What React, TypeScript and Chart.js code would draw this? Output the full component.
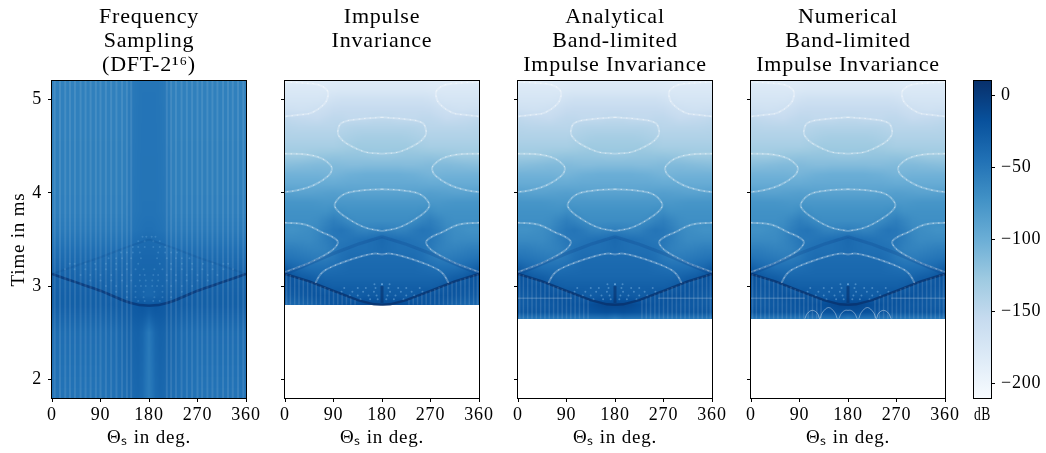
import React, { useEffect, useRef } from "react";
import { Chart, registerables } from "chart.js";
Chart.register(...registerables);

const FONT = "'Liberation Serif', serif";
const INK = "#000000";

// Colormap (Blues), dB range of the colourbar
const blues = ["#f7fbff","#deebf7","#c6dbef","#9ecae1","#6baed6","#4292c6","#2171b5","#08519c","#08306b"];
const dbMin = -210;
const dbMax = 10;
const colorTicks = [-200,-150,-100,-50,0];
const thetaTicks = [0,90,180,270,360];
const timeTicks = [2,3,4,5];

const titles = [
  ["Frequency","Sampling","(DFT-2¹⁶)"],
  ["Impulse","Invariance",""],
  ["Analytical","Band-limited","Impulse Invariance"],
  ["Numerical","Band-limited","Impulse Invariance"],
];

// Panel 1: left half of a symmetric field
const dftCols = [0,30,60,90,120,135,148,160,168,174,180];
const dftTimes = [5.2,3.8,3.6,3.5,3.3,3.13,3,2.9,2.8,2.7,2.5,1.8];
const dftField = [
  [-58,-58,-58,-58,-58,-58,-52,-49,-48,-48,-48],
  [-56,-56,-56,-56,-56,-56,-50,-48,-47,-47,-47],
  [-52,-52,-52,-52,-52,-52,-48,-46,-45,-44,-44],
  [-48,-48,-48,-48,-48,-48,-44,-42,-41,-40,-40],
  [-40,-40,-40,-40,-40,-40,-38,-37,-36,-36,-36],
  [-32,-34,-36,-36,-36,-36,-36,-35,-35,-35,-35],
  [-32,-32,-32,-32,-34,-34,-34,-34,-34,-36,-36],
  [-30,-30,-30,-30,-30,-30,-30,-32,-34,-36,-36],
  [-30,-30,-30,-30,-28,-28,-26,-24,-22,-24,-24],
  [-34,-34,-34,-34,-32,-30,-28,-26,-26,-28,-32],
  [-42,-42,-42,-42,-40,-36,-34,-32,-36,-44,-52],
  [-47,-47,-47,-47,-44,-42,-39,-36,-40,-48,-54],
];
const dftStripes = [5,14.8,24.6,33.4,42.6,53,62.3,71.6,81.4,90,100,109.7,119.6,130,139,147];
const dftVee = [[0,3.13],[45,3.04],[90,2.95],[135,2.84],[160,2.8],[180,2.79]];
const dftCap = [[0,3.13],[45,3.22],[90,3.31],[135,3.41],[180,3.5]];
const dftDots: [number, number[]][] = [
  [3.53,[168,175]],[3.48,[160,172]],[3.42,[150,160,172]],[3.36,[128,139,150,163]],[3.3,[105,119,130,147,165]],
  [3.24,[33,42,62,80,100,119,139,160]],[3.18,[24,42,62,81,100,119,139,155,170]],[3.12,[53,71,90,110,130,147,163,172]],
  [3.06,[71,90,110,130,147,163,174]],[3,[100,119,139,155,165,174]],[2.94,[119,139,155,170]],[2.88,[139,155,170]],[2.84,[160,172]],
];

// Panels 2-4: left half of a symmetric field, 0..180 deg
const iiCols = [0,15,30,45,60,75,90,105,120,135,150,165,180];
const iiTimes = [5.2,5.1,5,4.9,4.8,4.7,4.6,4.5,4.4,4.3,4.2,4.1,4,3.9,3.8,3.7,3.6,3.5,3.4,3.3,3.2,3.1,3,2.9];
const iiField = [
  [-184,-184,-184,-184,-184,-184,-183,-182,-182,-182,-182,-182,-182],
  [-178,-178,-178,-178,-178,-178,-177,-176,-176,-176,-176,-176,-176],
  [-172,-172,-172,-172,-172,-170,-166,-164,-164,-164,-164,-164,-164],
  [-164,-165,-166,-165,-163,-160,-156,-155,-155,-155,-155,-155,-155],
  [-150,-152,-153,-154,-155,-152,-150,-150,-152,-152,-152,-150,-150],
  [-144,-145,-146,-146,-146,-146,-146,-144,-142,-141,-141,-141,-141],
  [-140,-140,-140,-140,-140,-140,-140,-138,-136,-134,-133,-133,-133],
  [-134,-134,-134,-134,-134,-134,-134,-132,-130,-128,-128,-128,-128],
  [-128,-128,-128,-126,-124,-123,-122,-122,-122,-122,-123,-124,-124],
  [-116,-115,-114,-113,-112,-112,-112,-113,-114,-114,-113,-113,-113],
  [-104,-104,-104,-104,-104,-105,-106,-104,-102,-101,-100,-100,-100],
  [-97,-97,-97,-97,-97,-97,-97,-96,-95,-95,-95,-95,-95],
  [-86,-87,-88,-88,-87,-86,-85,-86,-87,-88,-88,-88,-88],
  [-76,-76,-76,-76,-77,-78,-78,-78,-78,-78,-78,-78,-78],
  [-72,-72,-72,-72,-72,-72,-68,-70,-72,-72,-72,-72,-72],
  [-70,-70,-70,-70,-68,-62,-56,-60,-66,-68,-68,-68,-68],
  [-72,-72,-70,-68,-64,-56,-50,-48,-52,-58,-60,-58,-56],
  [-66,-66,-66,-66,-62,-56,-50,-50,-48,-46,-44,-42,-38],
  [-56,-56,-58,-60,-60,-58,-52,-46,-44,-44,-44,-42,-40],
  [-46,-48,-50,-52,-54,-54,-50,-44,-40,-40,-40,-40,-40],
  [-30,-36,-40,-44,-44,-44,-42,-40,-38,-38,-38,-38,-38],
  [-18,-22,-28,-30,-34,-36,-36,-36,-36,-36,-36,-36,-36],
  [-22,-22,-22,-20,-24,-28,-30,-30,-30,-30,-30,-30,-30],
  [-26,-26,-24,-22,-20,-20,-20,-22,-26,-28,-26,-26,-26],
];
const tailTimes2 = [2.8];
const tailField2 = [[-36,-36,-34,-32,-28,-24,-22,-20,-18,-16,-12,-12,-14]];
const tailTimes3 = [2.8,2.72,2.65];
const tailField3 = [
  [-26,-26,-25,-24,-24,-22,-20,-20,-18,-16,-12,-10,-10],
  [-22,-22,-22,-22,-22,-22,-22,-22,-22,-20,-18,-16,-18],
  [-50,-50,-50,-50,-50,-50,-50,-50,-50,-50,-50,-48,-56],
];

const ringA = [[180,4.81],[136,4.79],[105,4.75],[98,4.66],[101,4.6],[114,4.53],[148,4.44],[180,4.42]];
const ringB = [[0,5.19],[30,5.18],[62,5.16],[77,5.11],[80,5.05],[74,4.96],[50,4.86],[31,4.84],[0,4.82]];
const ringC = [[0,4.42],[43,4.41],[68,4.37],[84,4.3],[87,4.25],[80,4.18],[56,4.09],[25,4.03],[0,4.01]];
const ringD = [[180,4.04],[149,4.03],[111,3.99],[93,3.89],[96,3.82],[118,3.72],[148,3.63],[180,3.59]];
const ringE = [[0,3.68],[37,3.66],[68,3.58],[93,3.51],[98,3.46],[84,3.37],[49,3.26],[19,3.19],[0,3.15]];
const ringF = [[56,3.03],[65,3.12],[74,3.17],[105,3.25],[142,3.32],[167,3.35],[180,3.34]];
const iiVee = [[0,3.13],[45,3.05],[90,2.95],[135,2.85],[165,2.805],[180,2.8]];
const iiCap = [[0,3.13],[45,3.24],[90,3.35],[135,3.45],[180,3.53]];
const iiStripes = [[3,3.13],[10,3.12],[18,3.1],[26,3.09],[34,3.07],[42,3.05],[50,3.04],[58,3.02],[66,3],[74,2.99],[82,2.97],[90,2.95],[98,2.93],[106,2.91],[114,2.89],[122,2.87],[130,2.85]];
const iiDots: [number, number[]][] = [
  [3.02,[166,180]],[2.98,[110,135,150,168]],[2.94,[105,125,145,165]],[2.9,[120,135,155,170]],[2.86,[140,158,172]],
];
const iiBar = [[180,2.82],[180,3]];
const bandEdge = [[0,2.87],[55,2.87],[100,2.87]];
const archLeft = [[128,2.65],[133,2.72],[144,2.77],[155,2.72],[160,2.65]];
const archMid = [[163,2.65],[168,2.71],[175,2.74],[180,2.74]];
const archOuter = [[100,2.65],[105,2.71],[114,2.74],[123,2.71],[127,2.65]];

function blueAt(db: number): number[] {
  const f = Math.min(1, Math.max(0, (db - dbMin) / (dbMax - dbMin))) * (blues.length - 1);
  const i = Math.min(blues.length - 2, Math.floor(f));
  const t = f - i;
  const a = hex(blues[i]), b = hex(blues[i + 1]);
  return [a[0] + (b[0] - a[0]) * t, a[1] + (b[1] - a[1]) * t, a[2] + (b[2] - a[2]) * t];
}
function hex(s: string): number[] {
  return [parseInt(s.slice(1, 3), 16), parseInt(s.slice(3, 5), 16), parseInt(s.slice(5, 7), 16)];
}
const both = (p: number[][]) => [p, p.map(([x, y]) => [360 - x, y])];
const asPts = (p: number[][]) => p.map(([x, y]) => ({ x, y }));

// Mirror a half field to a full grid of points with a value v
function gridPoints(cols: number[], times: number[], field: number[][]) {
  const full = [...cols, ...cols.slice(0, -1).reverse().map((c) => 360 - c)];
  const pts: { x: number; y: number; v: number }[] = [];
  times.forEach((t, r) => {
    const row = field[r];
    const vals = [...row, ...row.slice(0, -1).reverse()];
    full.forEach((x, c) => pts.push({ x, y: t, v: vals[c] }));
  });
  return { pts, nCols: full.length, nRows: times.length };
}

const textPlugin = {
  id: "textSpacing",
  beforeDraw(chart: any) {
    chart.ctx.letterSpacing = "0.8px";
  },
};

// Paints the "cells" dataset, reading the node positions from the elements that Chart.js placed
const heatPlugin = {
  id: "heat",
  beforeDatasetsDraw(chart: any) {
    const meta = chart.getDatasetMeta(0);
    const ds = chart.data.datasets[0];
    if (!ds.grid) return;
    const { nCols, nRows } = ds.grid;
    const xs: number[] = [], ys: number[] = [];
    for (let c = 0; c < nCols; c++) xs.push(meta.data[c].x);
    for (let r = 0; r < nRows; r++) ys.push(meta.data[r * nCols].y);
    const L = Math.round(xs[0]), R = Math.round(xs[nCols - 1]);
    const T = Math.round(ys[0]), B = Math.round(ys[nRows - 1]);
    const W = R - L, H = B - T;
    const off = document.createElement("canvas");
    off.width = W; off.height = H;
    const octx = off.getContext("2d")!;
    const img = octx.createImageData(W, H);
    let rI = 0;
    for (let py = 0; py < H; py++) {
      const yy = T + py + 0.5;
      while (rI < nRows - 2 && ys[rI + 1] < yy) rI++;
      const fy = Math.min(1, Math.max(0, (yy - ys[rI]) / (ys[rI + 1] - ys[rI])));
      let cI = 0;
      for (let px = 0; px < W; px++) {
        const xx = L + px + 0.5;
        while (cI < nCols - 2 && xs[cI + 1] < xx) cI++;
        const fx = Math.min(1, Math.max(0, (xx - xs[cI]) / (xs[cI + 1] - xs[cI])));
        const d = ds.data;
        const v00 = d[rI * nCols + cI].v, v01 = d[rI * nCols + cI + 1].v;
        const v10 = d[(rI + 1) * nCols + cI].v, v11 = d[(rI + 1) * nCols + cI + 1].v;
        const v = (v00 * (1 - fx) + v01 * fx) * (1 - fy) + (v10 * (1 - fx) + v11 * fx) * fy;
        const col = blueAt(v);
        const k = (py * W + px) * 4;
        img.data[k] = col[0]; img.data[k + 1] = col[1]; img.data[k + 2] = col[2]; img.data[k + 3] = 255;
      }
    }
    octx.putImageData(img, 0, 0);
    chart.ctx.drawImage(off, L, T);
  },
};

const framePlugin = {
  id: "frame",
  afterDraw(chart: any) {
    const { left, top, right, bottom } = chart.chartArea;
    const c = chart.ctx;
    c.save();
    c.strokeStyle = INK; c.lineWidth = 1;
    c.strokeRect(left - 0.5, top - 0.5, right - left + 1, bottom - top + 1);
    c.restore();
  },
};

function lineDs(points: number[][], color: string, width: number, extra: any = {}) {
  return { type: "scatter", data: asPts(points), showLine: true, borderColor: color, borderWidth: width, pointRadius: 0, tension: 0, ...extra };
}
function ringDs(p: number[][]) {
  const out: any[] = [];
  both(p).forEach((side) => {
    out.push(lineDs(side, "rgba(255,255,255,0.25)", 2, { tension: 0.4 }));
    out.push(lineDs(side, "rgba(255,255,255,0.5)", 1, { tension: 0.4, borderDash: [1.5, 4] }));
  });
  return out;
}
function dotDs(rows: [number, number[]][], color: string, r: number) {
  const pts: { x: number; y: number }[] = [];
  rows.forEach(([t, degs]) => degs.forEach((d) => { pts.push({ x: d, y: t }); pts.push({ x: 360 - d, y: t }); }));
  return { type: "scatter", data: pts, pointRadius: r, pointBackgroundColor: color, pointBorderWidth: 0, showLine: false };
}

function panelDatasets(i: number) {
  const ds: any[] = [];
  if (i === 0) {
    const g = gridPoints(dftCols, dftTimes, dftField);
    ds.push({ type: "scatter", data: g.pts, grid: g, pointRadius: 0, showLine: false });
    dftStripes.forEach((d) => {
      both([[d, 1.8], [d, 5.2]]).forEach((s) => ds.push(lineDs(s, "rgba(255,255,255,0.1)", 2)));
    });
    both(dftCap).forEach((s) => ds.push(lineDs(s, "rgba(8,60,130,0.15)", 2)));
    both(dftVee).forEach((s) => ds.push(lineDs(s, "rgba(8,55,120,0.8)", 2.6, { tension: 0.2 })));
    ds.push(dotDs(dftDots, "rgba(130,190,235,0.25)", 1));
    return ds;
  }
  const tailT = i === 1 ? tailTimes2 : tailTimes3;
  const tailF = i === 1 ? tailField2 : tailField3;
  const g = gridPoints(iiCols, [...iiTimes, ...tailT], [...iiField, ...tailF]);
  ds.push({ type: "scatter", data: g.pts, grid: g, pointRadius: 0, showLine: false });
  const low = i === 1 ? 2.8 : 2.65;
  iiStripes.forEach(([d, top]) => {
    both([[d, low], [d, top]]).forEach((s) => ds.push(lineDs(s, "rgba(255,255,255,0.13)", 1.5)));
  });
  both(iiCap).forEach((s) => ds.push(lineDs(s, "rgba(8,60,130,0.22)", 3.2)));
  both(iiVee).forEach((s) => ds.push(lineDs(s, "rgba(8,48,107,0.75)", 2.4)));
  ds.push(lineDs(iiBar, "rgba(8,48,107,0.6)", 3));
  ds.push(dotDs(iiDots, "rgba(150,200,240,0.4)", 1));
  [ringA, ringB, ringC, ringD, ringE, ringF].forEach((r) => ds.push(...ringDs(r)));
  if (i > 1) {
    both(bandEdge).forEach((s) => ds.push(lineDs(s, "rgba(255,255,255,0.18)", 1.5)));
  }
  if (i === 3) {
    [archLeft, archMid, archOuter].forEach((r) => both(r).forEach((s) => ds.push(lineDs(s, "rgba(255,255,255,0.4)", 1, { tension: 0.4 }))));
  }
  return ds;
}

function Panel({ i }: { i: number }) {
  const ref = useRef<HTMLCanvasElement>(null);
  const leftEdge = [0, 255, 488, 721][i];
  const plotLeft = [52, 285, 518, 751][i];
  const w = [290, 250, 250, 250][i];
  const padRight = w - (plotLeft + 194 - leftEdge);
  useEffect(() => {
    const chart = new Chart(ref.current!, {
      type: "scatter",
      data: { datasets: panelDatasets(i) },
      plugins: [textPlugin, heatPlugin, framePlugin],
      options: {
        animation: false,
        responsive: false,
        devicePixelRatio: 1,
        events: [],
        layout: { padding: { right: padRight } },
        plugins: {
          legend: { display: false },
          tooltip: { enabled: false },
          title: {
            display: true,
            text: titles[i],
            color: INK,
            font: { family: FONT, size: 22, weight: "normal", lineHeight: "24px" },
            padding: { top: 5, bottom: 4 },
            align: "center",
            fullSize: false,
          },
        },
        scales: {
          x: {
            type: "linear", min: 0, max: 360,
            afterBuildTicks: (s: any) => { s.ticks = thetaTicks.map((value) => ({ value })); },
            afterFit: (s: any) => { s.height = 55; },
            ticks: { color: INK, font: { family: FONT, size: 18 }, maxRotation: 0, autoSkip: false, padding: 2 },
            grid: { drawOnChartArea: false, color: INK, tickLength: 4, tickWidth: 1 },
            border: { display: false },
            title: { display: true, text: "Θₛ in deg.", color: INK, font: { family: FONT, size: 19 }, padding: { top: 0, bottom: 4 } },
          },
          y: {
            type: "linear", min: 1.8, max: 5.2,
            afterBuildTicks: (s: any) => { s.ticks = timeTicks.map((value) => ({ value })); },
            afterFit: (s: any) => { s.width = plotLeft - leftEdge; },
            ticks: { color: INK, font: { family: FONT, size: 18 }, padding: 6, callback: (v: any) => (i === 0 ? String(v) : "") },
            grid: { drawOnChartArea: false, color: INK, tickLength: 4, tickWidth: 1 },
            border: { display: false },
            title: { display: i === 0, text: "Time in ms", color: INK, font: { family: FONT, size: 19 }, padding: { top: 8, bottom: 0 } },
          },
        },
      } as any,
    } as any);
    return () => chart.destroy();
  }, [i]);
  return <canvas ref={ref} width={w} height={453} style={{ position: "absolute", left: leftEdge, top: 0 }} />;
}

function ColorBar() {
  const ref = useRef<HTMLCanvasElement>(null);
  useEffect(() => {
    const chart = new Chart(ref.current!, {
      type: "bar",
      data: {
        labels: [""],
        datasets: [{
          data: [[dbMin, dbMax]],
          barPercentage: 1,
          categoryPercentage: 1,
          borderWidth: 0,
          backgroundColor: (ctx: any) => {
            const a = ctx.chart.chartArea;
            if (!a) return blues[4];
            const y = ctx.chart.scales.y;
            const g = ctx.chart.ctx.createLinearGradient(0, y.getPixelForValue(dbMin), 0, y.getPixelForValue(dbMax));
            blues.forEach((c, k) => g.addColorStop(k / (blues.length - 1), c));
            return g;
          },
        }],
      },
      plugins: [textPlugin, framePlugin],
      options: {
        animation: false,
        responsive: false,
        devicePixelRatio: 1,
        events: [],
        layout: { padding: { top: 81, left: 14, right: 0, bottom: 0 } },
        plugins: { legend: { display: false }, tooltip: { enabled: false } },
        scales: {
          x: {
            type: "category",
            afterFit: (s: any) => { s.height = 55; },
            ticks: { display: false },
            grid: { display: false },
            border: { display: false },
            title: { display: true, text: "dB", color: INK, font: { family: FONT, size: 18 }, padding: { top: 0, bottom: 27 } },
          },
          y: {
            type: "linear", position: "right", min: dbMin, max: dbMax,
            afterBuildTicks: (s: any) => { s.ticks = colorTicks.map((value) => ({ value })); },
            afterFit: (s: any) => { s.width = 55; },
            ticks: { color: INK, font: { family: FONT, size: 18 }, padding: 6, callback: (v: any) => String(v).replace("-", "−") },
            grid: { drawOnChartArea: false, color: INK, tickLength: 4, tickWidth: 1 },
            border: { display: false },
          },
        },
      } as any,
    } as any);
    return () => chart.destroy();
  }, []);
  return <canvas ref={ref} width={86} height={453} style={{ position: "absolute", left: 960, top: 0 }} />;
}

export default function App() {
  return (
    <div style={{ position: "fixed", left: 0, top: 0, width: 1046, height: 453, background: "#fff", overflow: "hidden" }}>
      {[0, 1, 2, 3].map((i) => <Panel key={i} i={i} />)}
      <ColorBar />
    </div>
  );
}
